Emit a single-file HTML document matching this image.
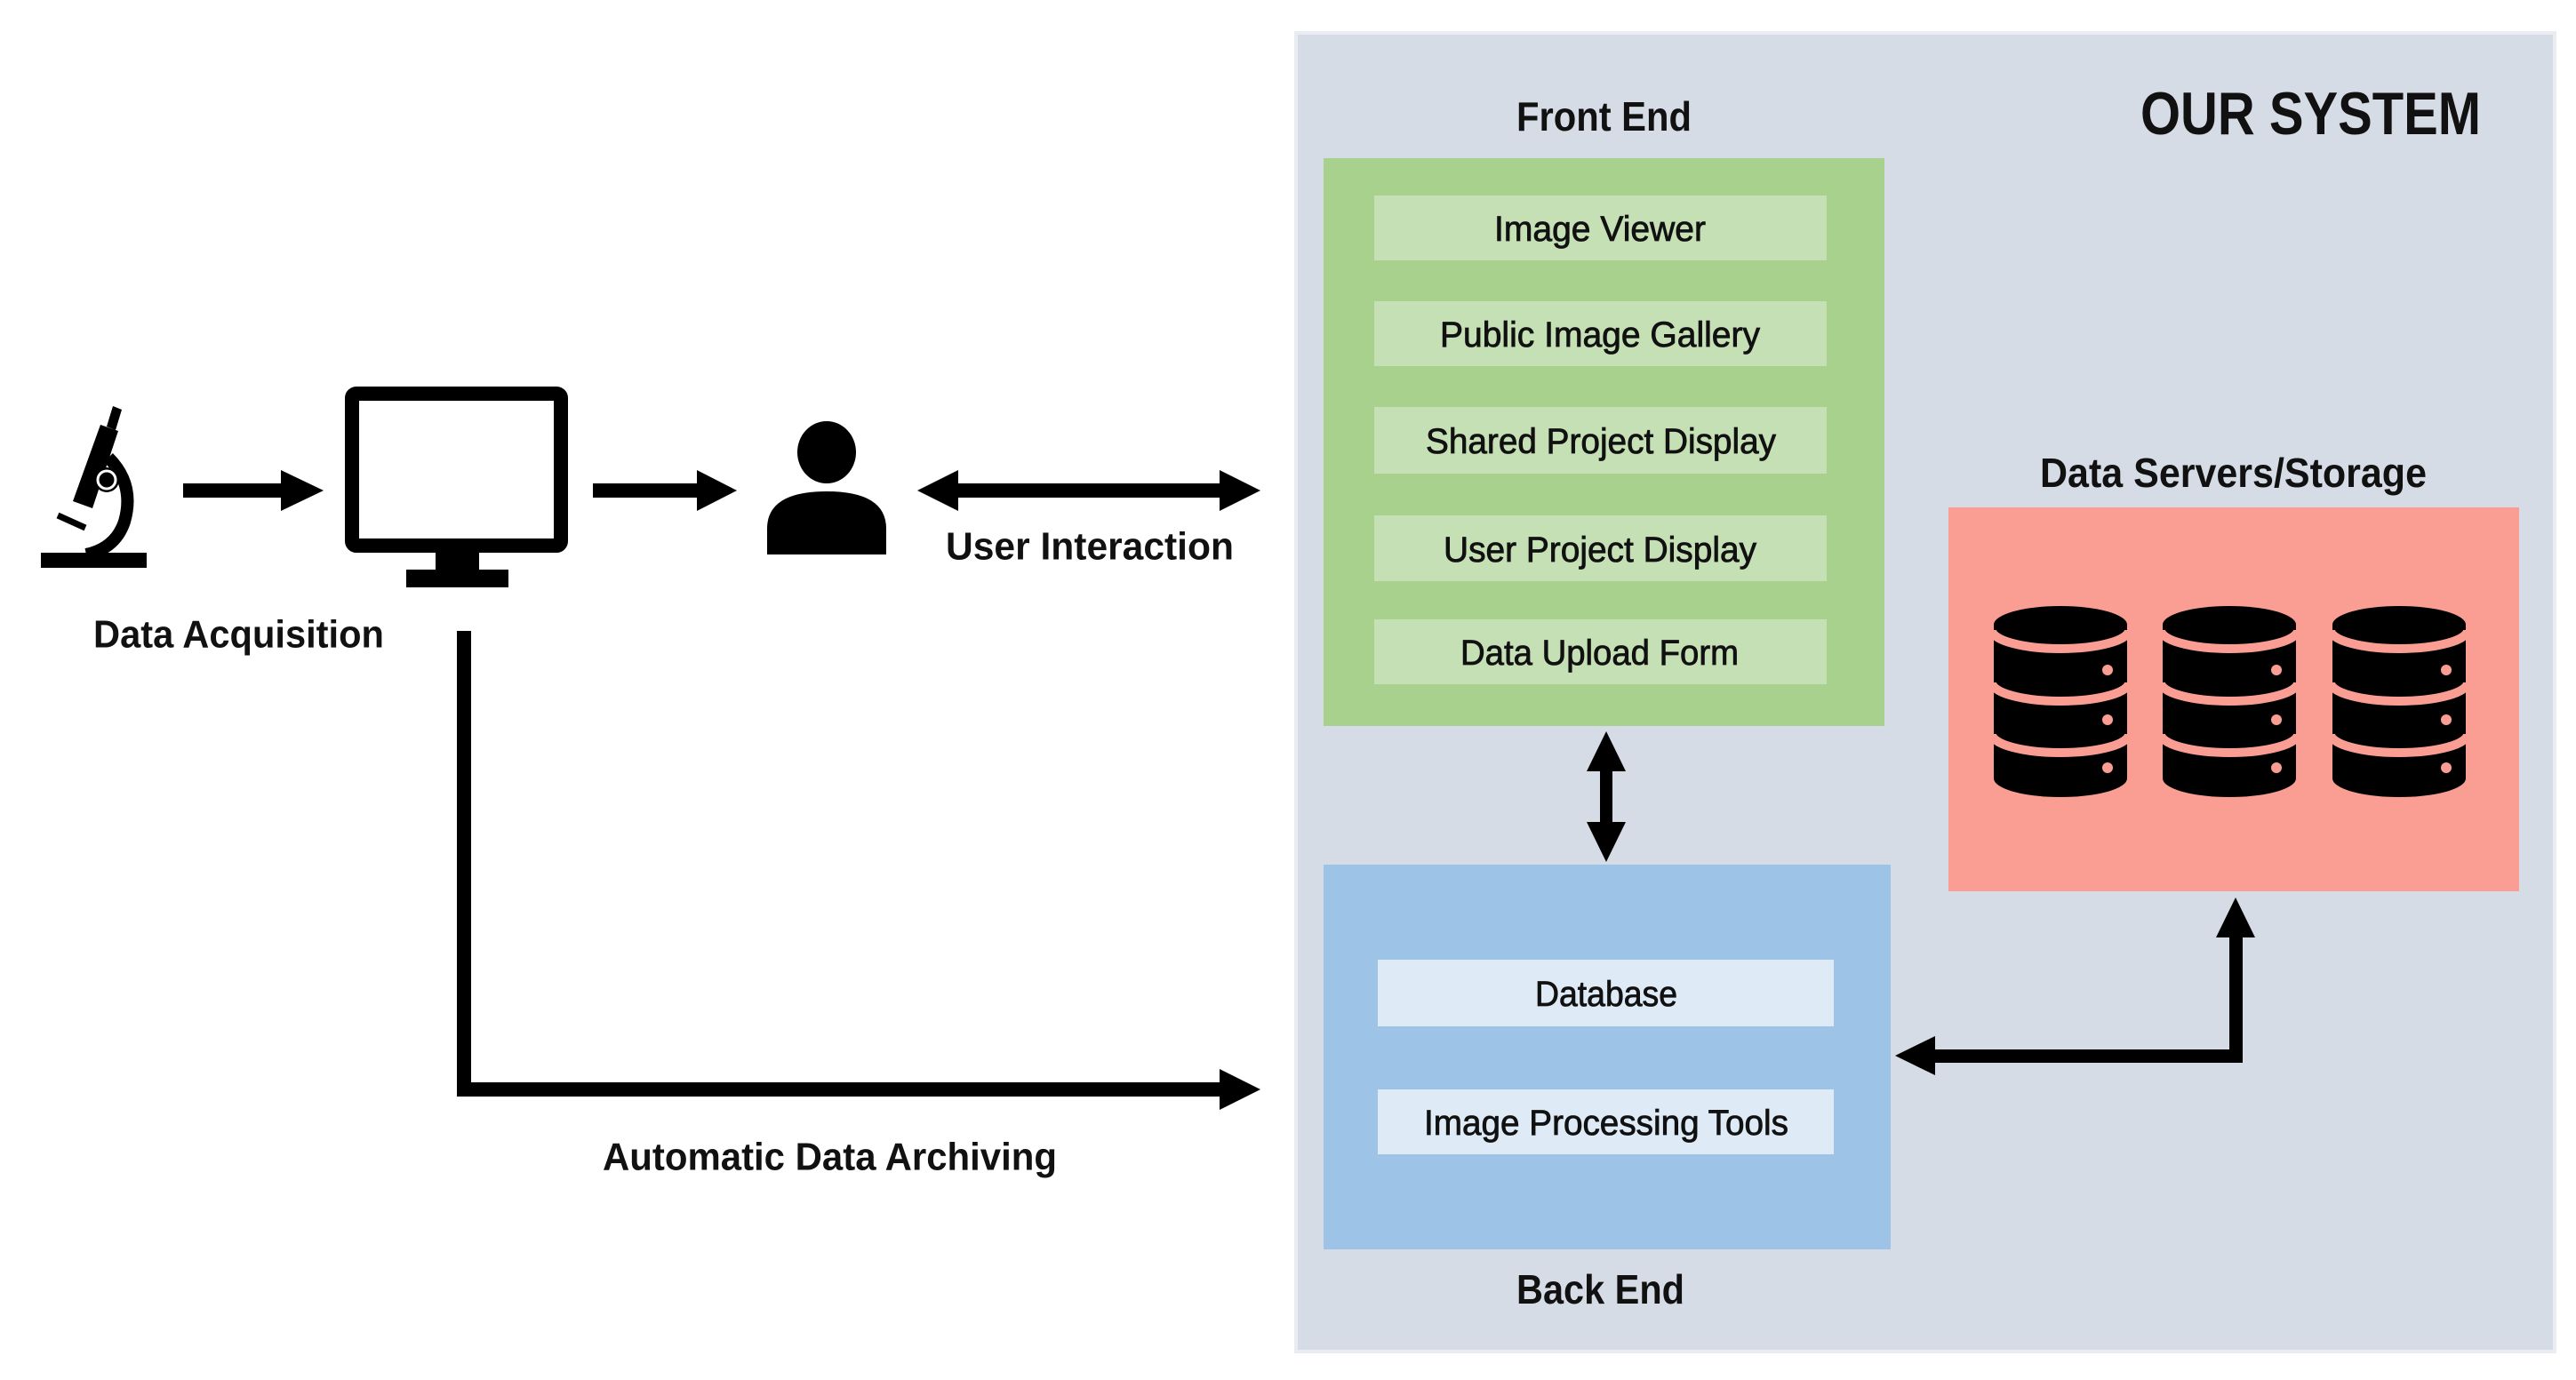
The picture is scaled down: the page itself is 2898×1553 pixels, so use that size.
<!DOCTYPE html>
<html><head><meta charset="utf-8"><style>
html,body{margin:0;padding:0;background:#fff;}
svg{display:block;}
text{font-family:"Liberation Sans",sans-serif;fill:#111;}
.h{font-weight:bold;}
.i{font-size:40px;stroke:#111;stroke-width:0.8px;}
</style></head><body>
<svg width="2898" height="1553" viewBox="0 0 2898 1553" xmlns="http://www.w3.org/2000/svg">
<rect width="2898" height="1553" fill="#fff"/>
<!-- system panel -->
<rect x="1458" y="37" width="1416" height="1484" fill="#d6dce5" stroke="#e9edf2" stroke-width="4"/>
<text class="h" x="2408" y="128" font-size="68" dominant-baseline="central" textLength="383" lengthAdjust="spacingAndGlyphs">OUR SYSTEM</text>
<text class="h" x="1706" y="131" font-size="46" dominant-baseline="central" textLength="197" lengthAdjust="spacingAndGlyphs">Front End</text>
<text class="h" x="1706" y="1451" font-size="46" dominant-baseline="central" textLength="189" lengthAdjust="spacingAndGlyphs">Back End</text>
<text class="h" x="2295" y="532" font-size="46" dominant-baseline="central" textLength="435" lengthAdjust="spacingAndGlyphs">Data Servers/Storage</text>
<!-- front end -->
<rect x="1489" y="178" width="631" height="639" fill="#a9d18e"/>
<g fill="#c5e0b4">
<rect x="1546" y="220" width="509" height="73"/>
<rect x="1546" y="339" width="509" height="73"/>
<rect x="1546" y="458" width="509" height="75"/>
<rect x="1546" y="580" width="509" height="74"/>
<rect x="1546" y="697" width="509" height="73"/>
</g>
<text class="i" x="1681" y="258" dominant-baseline="central" textLength="238" lengthAdjust="spacingAndGlyphs">Image Viewer</text>
<text class="i" x="1620" y="377" dominant-baseline="central" textLength="360" lengthAdjust="spacingAndGlyphs">Public Image Gallery</text>
<text class="i" x="1604" y="497" dominant-baseline="central" textLength="394" lengthAdjust="spacingAndGlyphs">Shared Project Display</text>
<text class="i" x="1624" y="619" dominant-baseline="central" textLength="352" lengthAdjust="spacingAndGlyphs">User Project Display</text>
<text class="i" x="1643" y="735" dominant-baseline="central" textLength="313" lengthAdjust="spacingAndGlyphs">Data Upload Form</text>
<!-- back end -->
<rect x="1489" y="973" width="638" height="433" fill="#9dc3e6"/>
<rect x="1550" y="1080" width="513" height="75" fill="#deebf7"/>
<rect x="1550" y="1226" width="513" height="73" fill="#deebf7"/>
<text class="i" x="1727" y="1119" dominant-baseline="central" textLength="160" lengthAdjust="spacingAndGlyphs">Database</text>
<text class="i" x="1602" y="1264" dominant-baseline="central" textLength="410" lengthAdjust="spacingAndGlyphs">Image Processing Tools</text>
<!-- red storage -->
<rect x="2192" y="571" width="642" height="432" fill="#fa9e94"/>
<g id="db">
<path d="M2243,703 L2243,876 A75,21 0 0 0 2393,876 L2393,703 Z" fill="#000"/>
<ellipse cx="2318" cy="703" rx="75" ry="21" fill="#000"/>
<g fill="none" stroke="#fa9e94" stroke-width="10">
<path d="M2241,709 A77,21 0 0 0 2395,709"/>
<path d="M2241,768 A77,21 0 0 0 2395,768"/>
<path d="M2241,826 A77,21 0 0 0 2395,826"/>
</g>
<g fill="#fa9e94"><circle cx="2371" cy="754" r="6"/><circle cx="2371" cy="810" r="6"/><circle cx="2371" cy="864" r="6"/></g>
</g>
<use href="#db" x="190"/>
<use href="#db" x="381"/>
<!-- arrows in system -->
<g fill="#000">
<rect x="1800" y="855" width="14" height="80"/>
<polygon points="1807,823 1785,868 1829,868"/>
<polygon points="1807,970 1785,925 1829,925"/>
<rect x="2508" y="1045" width="15" height="150"/>
<polygon points="2515,1010 2493,1055 2537,1055"/>
<rect x="2170" y="1181" width="353" height="15"/>
<polygon points="2132,1188 2177,1166 2177,1210"/>
</g>
<!-- left side -->
<g fill="#000">
<!-- microscope -->
<rect x="46" y="622" width="119" height="17"/>
<polygon points="113,478 133,485 104,572 82,564"/>
<polygon points="127,457 137,461 130,484 120,480"/>
<path d="M122,515 Q152,545 140,587 Q130,617 97,624" fill="none" stroke="#000" stroke-width="14"/>
<circle cx="120" cy="540" r="14"/>
<circle cx="120" cy="540" r="10" fill="none" stroke="#fff" stroke-width="3"/>
<line x1="65" y1="580" x2="96" y2="594" stroke="#000" stroke-width="7"/>
<!-- arrow 1 -->
<rect x="206" y="544" width="115" height="16"/>
<polygon points="364,552 316,529 316,575"/>
<!-- monitor -->
<rect x="396" y="443" width="235" height="171" fill="none" stroke="#000" stroke-width="16" rx="5"/>
<rect x="490" y="620" width="49" height="22"/>
<rect x="457" y="641" width="115" height="20"/>
<!-- arrow 2 -->
<rect x="667" y="544" width="120" height="16"/>
<polygon points="829,552 784,529 784,575"/>
<!-- person -->
<ellipse cx="930" cy="509" rx="33" ry="35"/>
<path d="M863,624 L863,595 Q863,553 930,553 Q997,553 997,595 L997,624 Z"/>
<!-- double arrow -->
<rect x="1070" y="544" width="310" height="16"/>
<polygon points="1032,552 1078,529 1078,575"/>
<polygon points="1418,552 1372,529 1372,575"/>
<!-- archive line -->
<rect x="514" y="710" width="16" height="524"/>
<rect x="514" y="1218" width="864" height="16"/>
<polygon points="1418,1226 1372,1203 1372,1249"/>
</g>
<text class="h" x="1064" y="615" font-size="44" dominant-baseline="central" textLength="324" lengthAdjust="spacingAndGlyphs">User Interaction</text>
<text class="h" x="105" y="714" font-size="44" dominant-baseline="central" textLength="327" lengthAdjust="spacingAndGlyphs">Data Acquisition</text>
<text class="h" x="678" y="1302" font-size="44" dominant-baseline="central" textLength="511" lengthAdjust="spacingAndGlyphs">Automatic Data Archiving</text>
</svg>
</body></html>
